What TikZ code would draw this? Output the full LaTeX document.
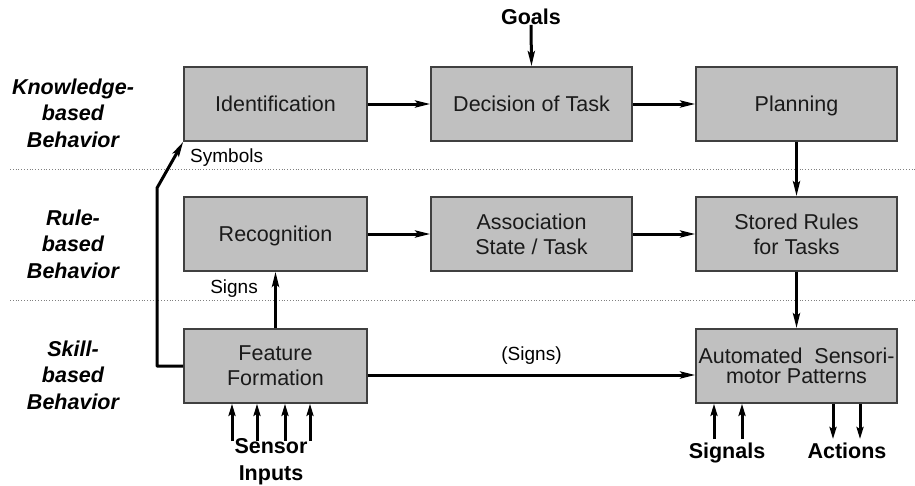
\documentclass[tikz,border=0pt]{standalone}
\usepackage{fontspec}
\setmainfont{Liberation Sans}
\usetikzlibrary{arrows.meta}
\definecolor{boxfill}{HTML}{C0C0C0}
\definecolor{boxline}{HTML}{404040}
\definecolor{txt}{HTML}{1A1A1A}
\begin{document}
\begin{tikzpicture}[x=1pt,y=-1pt,
  blk/.style={draw=boxline, line width=1.6pt, fill=boxfill, inner sep=0pt,
    align=center, minimum height=74pt, font=\fontsize{21.5}{25}\selectfont, text=txt},
  blkA/.style={blk, minimum width=183pt},
  blkB/.style={blk, minimum width=201pt},
  oneline/.style={text height=15.5pt, text depth=0pt},
  flow/.style={line width=3pt, -{Stealth[length=15pt,width=7pt,inset=3pt]}},
  thin flow/.style={line width=3pt, -{Stealth[length=12pt,width=7pt,inset=2pt]}},
  level/.style={font=\bfseries\itshape\fontsize{21.5}{26.5}\selectfont, align=center},
  note/.style={font=\fontsize{19}{22}\selectfont, inner sep=0pt},
  ext/.style={font=\bfseries\fontsize{21.5}{27}\selectfont, align=center, inner sep=0pt},
  sep/.style={draw=gray, line width=0.8pt, dotted}
]
\useasboundingbox (0,0) rectangle (915,485);

% level separators
\draw[sep] (10,169) -- (915,169);
\draw[sep] (10,300) -- (915,300);

% level names
\node[level] (lk) at (73,113) {Knowledge-\\based\\Behavior};
\node[level] (lr) at (73,244) {Rule-\\based\\Behavior};
\node[level] (ls) at (73,375) {Skill-\\based\\Behavior};

% processing blocks
\node[blkA, oneline] (ident) at (275.5,104) {Identification};
\node[blkB, oneline] (decide) at (531.5,104) {Decision of Task};
\node[blkB, oneline] (plan) at (796.5,104) {Planning};
\node[blkA, oneline] (recog) at (275.5,234) {Recognition};
\node[blkB] (assoc) at (531.5,234) {Association\\State / Task};
\node[blkB] (rules) at (796.5,234) {Stored Rules\\for Tasks};
\node[blkA] (feat) at (275.5,366) {Feature\\Formation};
\node[blkB, font=\fontsize{21.5}{20}\selectfont] (auto) at (796.5,366) {Automated\ \ Sensori-\\motor Patterns};

% external inputs and outputs
\node[ext, oneline] (goals) at (531,17) {Goals};
\node[ext, anchor=base] (sensor) at (271,480) {Sensor\\Inputs};
\node[ext, anchor=base] (signals) at (727,458) {Signals};
\node[ext, anchor=base] (actions) at (847,458) {Actions};

% knowledge-based chain
\draw[flow] (goals.south) -- (decide.north);
\draw[flow] (ident) -- (decide);
\draw[flow] (decide) -- (plan);
\draw[flow] (plan) -- (rules);

% rule-based chain
\draw[flow] (recog) -- (assoc);
\draw[flow] (assoc) -- (rules);
\draw[flow] (rules) -- (auto);

% skill-based links
\draw[flow] (feat.north) -- (recog.south);
\node[note, anchor=east] (signs) at (258,289) {Signs};
\coordinate (symA) at (157,366);
\coordinate (symB) at (157,188);
\draw[flow, line join=round] (feat.west) -- (symA) -- (symB) -- (ident.south west);
\node[note, anchor=west] (symbols) at (190,158) {Symbols};
\draw[flow] (feat.east |- 0,375) -- (auto.west |- 0,375)
  node[note, pos=0.5, above=9pt] (signsp) {(Signs)};

% sensor inputs
\foreach \x in {232,257,285,310}
  \draw[thin flow] (\x,441) -- (feat.south -| \x,0);
% signals into the automated patterns
\foreach \x in {714,742}
  \draw[thin flow] (\x,439) -- (auto.south -| \x,0);
% actions out of the automated patterns
\foreach \x in {833,860}
  \draw[thin flow] (auto.south -| \x,0) -- (\x,439);
\end{tikzpicture}
\end{document}
